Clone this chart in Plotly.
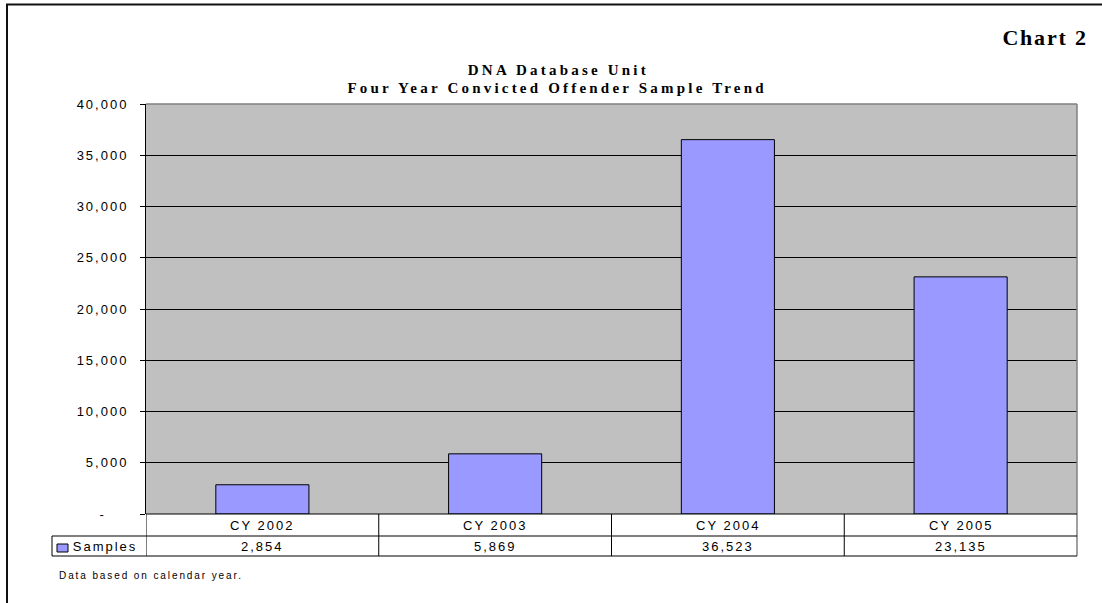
import json
import plotly.graph_objects as go

# Convicted offender samples received per calendar year
categories = ["CY 2002", "CY 2003", "CY 2004", "CY 2005"]
samples = [2854, 5869, 36523, 23135]
series_name = "Samples"

# accounting-style zero: a dash padded away from the axis
tick_values = [0, 5000, 10000, 15000, 20000, 25000, 30000, 35000, 40000]
tick_labels = ["-\u00a0\u00a0\u00a0\u00a0", "5,000", "10,000", "15,000", "20,000",
               "25,000", "30,000", "35,000", "40,000"]

title_line1 = "DNA Database Unit"
title_line2 = "Four Year Convicted Offender Sample Trend"
chart_label = "Chart 2"
footnote = "Data based on calendar year."

W, H = 1102, 603
PL, PR, PT, PB = 146, 1077, 104, 514  # plot area in pixels

SANS = "Arial, Liberation Sans, sans-serif"
SERIF = "Times New Roman, Liberation Serif, serif"
BAR_FILL = "#9999FF"
TXT = 13        # axis and table text size
TXT_TRACK = 2   # letter spacing of axis and table text


def px(xp):
    return (xp - PL) / (PR - PL)


def py(yp):
    return (PB - yp) / (PB - PT)


fig = go.Figure()
fig.add_trace(go.Bar(
    x=categories, y=samples, name=series_name,
    marker=dict(color=BAR_FILL, line=dict(color="#000000", width=1)),
    showlegend=False, hoverinfo="skip",
))

shapes = []
annotations = []
tracking = []  # letter spacing (px) for each annotation, in order


def add_text(spacing, **kw):
    annotations.append(dict(showarrow=False, **kw))
    tracking.append(spacing)


# outer frame (left and top edges)
shapes.append(dict(type="line", xref="paper", yref="paper", x0=px(7), x1=px(7), y0=py(4), y1=py(700),
                   line=dict(color="#111111", width=2)))
shapes.append(dict(type="line", xref="paper", yref="paper", x0=px(6), x1=px(1200), y0=py(4.5), y1=py(4.5),
                   line=dict(color="#111111", width=2)))

# grey top and right borders of the plot area
shapes.append(dict(type="line", xref="paper", yref="paper", x0=0, x1=1, y0=1, y1=1,
                   line=dict(color="#808080", width=1.5)))
shapes.append(dict(type="line", xref="paper", yref="paper", x0=1, x1=1, y0=py(556), y1=1,
                   line=dict(color="#808080", width=1.5)))

# data table under the bars
row1_bottom = py(536)
row2_bottom = py(556)
shapes.append(dict(type="line", xref="paper", yref="paper", x0=0, x1=1, y0=0, y1=0,
                   line=dict(color="#000000", width=1.2)))
for yy in (row1_bottom, row2_bottom):
    shapes.append(dict(type="line", xref="paper", yref="paper", x0=px(52), x1=1, y0=yy, y1=yy,
                       line=dict(color="#000000", width=1.2)))
shapes.append(dict(type="line", xref="paper", yref="paper", x0=px(52), x1=px(52),
                   y0=row2_bottom, y1=row1_bottom, line=dict(color="#000000", width=1)))
for i in range(len(categories)):
    shapes.append(dict(type="line", xref="x", yref="paper", x0=i - 0.5, x1=i - 0.5,
                       y0=row2_bottom, y1=0, line=dict(color="#000000", width=1)))

# legend key in the table
shapes.append(dict(type="rect", xref="paper", yref="paper", x0=px(57), x1=px(68), y0=py(552), y1=py(544),
                   fillcolor=BAR_FILL, line=dict(color="#000000", width=1)))
add_text(TXT_TRACK, text=series_name, xref="paper", yref="paper", x=px(71), y=py(546.5),
         xanchor="left", yanchor="middle", font=dict(family=SANS, size=TXT, color="#000000"))

for i, (cat, val) in enumerate(zip(categories, samples)):
    add_text(TXT_TRACK, text=cat, xref="x", yref="paper", x=i, y=py(525.5),
             xanchor="center", yanchor="middle", font=dict(family=SANS, size=TXT, color="#000000"))
    add_text(TXT_TRACK, text=f"{val:,}", xref="x", yref="paper", x=i, y=py(546.5),
             xanchor="center", yanchor="middle", font=dict(family=SANS, size=TXT, color="#000000"))

# titles
add_text(3.2, text=f"<b>{title_line1}</b>", xref="paper", yref="paper", x=px(558), y=py(70.5),
         xanchor="center", yanchor="middle", font=dict(family=SERIF, size=15, color="#000000"))
add_text(3.2, text=f"<b>{title_line2}</b>", xref="paper", yref="paper", x=px(557), y=py(88),
         xanchor="center", yanchor="middle", font=dict(family=SERIF, size=15, color="#000000"))
add_text(1.8, text=f"<b>{chart_label}</b>", xref="paper", yref="paper", x=px(1090), y=py(37),
         xanchor="right", yanchor="middle", font=dict(family=SERIF, size=22, color="#000000"))
add_text(1.9, text=footnote, xref="paper", yref="paper", x=px(57), y=py(575),
         xanchor="left", yanchor="middle", font=dict(family=SANS, size=10, color="#000000"))

fig.update_layout(
    width=W, height=H, autosize=False,
    margin=dict(l=PL, r=W - PR, t=PT, b=H - PB, pad=0),
    paper_bgcolor="#FFFFFF", plot_bgcolor="#C0C0C0",
    bargap=0.6,
    shapes=shapes, annotations=annotations,
    xaxis=dict(range=[-0.5, len(categories) - 0.5], showticklabels=False, ticks="",
               showgrid=False, zeroline=False, showline=False, fixedrange=True),
    yaxis=dict(range=[0, 40000], tickvals=tick_values, ticktext=tick_labels,
               ticks="outside", ticklen=5, tickcolor="#000000", tickwidth=1,
               showline=True, linecolor="#000000", linewidth=1,
               showgrid=True, gridcolor="#000000", gridwidth=1, zeroline=False,
               ticklabelstandoff=9,
               tickfont=dict(family=SANS, size=TXT, color="#000000"), fixedrange=True),
)

# character spacing for the wide-tracked chart text, keeping each label's anchor edge in place
spacing_js = """
var gd = document.getElementById('{plot_id}');
var tracking = %s;
var tickTrack = %s;
gd.querySelectorAll('.ytick text').forEach(function(t){ t.style.letterSpacing = tickTrack + 'px'; });
gd.querySelectorAll('g.annotation').forEach(function(g){
  var idx = +g.getAttribute('data-index');
  var ann = gd.layout.annotations[idx];
  var t = g.querySelector('.annotation-text');
  if (!t || !ann) return;
  var w0 = t.getBBox().width;
  t.style.letterSpacing = tracking[idx] + 'px';
  var w1 = t.getBBox().width;
  var d = (w1 - w0) / 2;
  var shift = ann.xanchor === 'left' ? d : (ann.xanchor === 'right' ? -d : 0);
  var prev = t.getAttribute('transform') || '';
  t.setAttribute('transform', prev + ' translate(' + shift + ',0)');
});
""" % (json.dumps(tracking), json.dumps(TXT_TRACK))

fig.write_html("out.html", post_script=spacing_js, config={"displayModeBar": False})
